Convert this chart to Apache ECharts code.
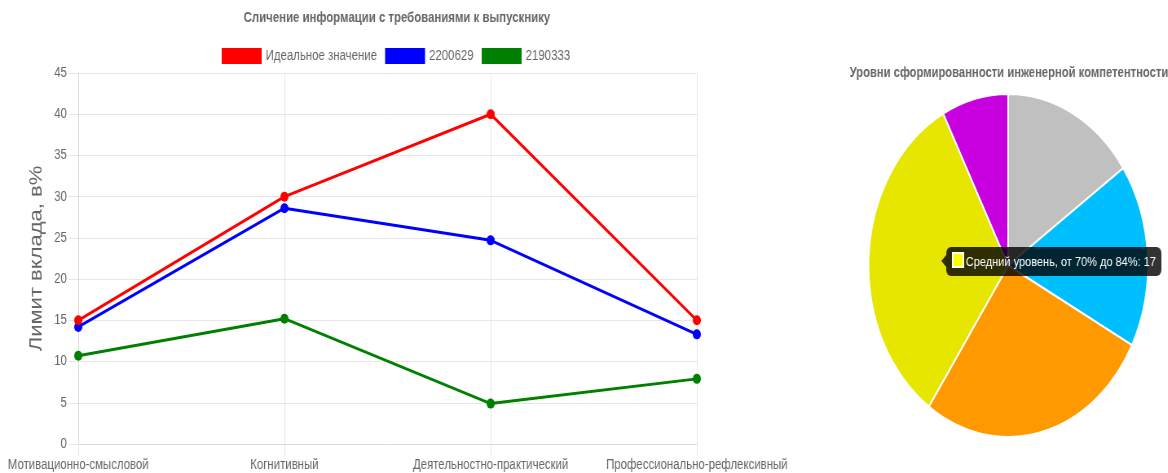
<!DOCTYPE html>
<html lang="ru">
<head>
<meta charset="UTF-8" />
<title>Сличение информации с требованиями к выпускнику</title>
<script src="https://cdn.jsdelivr.net/npm/echarts@6/dist/echarts.min.js"></script>
<style>
  html, body { margin: 0; padding: 0; overflow: hidden; background: #fff; }
  /* the reference is squeezed horizontally, so the whole chart is too */
  #main { width: 1433px; height: 473px; transform: scaleX(0.815); transform-origin: 0 0; }
</style>
</head>
<body>
<div id="main"></div>
<script>
var categories = ["Мотивационно-смысловой", "Когнитивный", "Деятельностно-практический", "Профессионально-рефлексивный"];
var idealValues = [15, 30, 40, 15];
var values2200629 = [14.2, 28.6, 24.7, 13.3];
var values2190333 = [10.7, 15.2, 4.9, 7.9];
var yMin = 0, yMax = 45, yStep = 5;

var levelNames = [
  "Недостаточный уровень, менее 40%",
  "Низкий уровень, от 40% до 54%",
  "Пороговый уровень, от 55% до 69%",
  "Средний уровень, от 70% до 84%",
  "Высокий уровень, от 85% до 100%"
];
var levelCounts = [8, 9, 14, 17, 4];
var levelColors = ["#c0c0c0", "#00bfff", "#ff9900", "#e6e600", "#c800e0"];
var levelTipColors = ["#d0d0d0", "#33ccff", "#ffad33", "#ffff00", "#dd33ff"];

var font = "'Liberation Sans', Arial, sans-serif";
var chart = echarts.init(document.getElementById("main"));

function lineSeries(name, data, color) {
  return {
    name: name,
    type: "line",
    data: data,
    symbol: "circle",
    symbolSize: 10,
    lineStyle: { width: 3, color: color },
    itemStyle: { color: color },
    emphasis: { disabled: true }
  };
}

var option = {
  animation: false,
  textStyle: { fontFamily: font },
  title: [
    {
      text: "Сличение информации с требованиями к выпускнику",
      left: 482, top: 6, textAlign: "center",
      textStyle: { fontSize: 14, fontWeight: "bold", color: "#666", fontFamily: font }
    },
    {
      text: "Уровни сформированности инженерной компетентности",
      left: 1233, top: 61, textAlign: "center",
      textStyle: { fontSize: 13.8, fontWeight: "bold", color: "#666", fontFamily: font }
    }
  ],
  legend: {
    left: 267, top: 43,
    itemWidth: 49, itemHeight: 16, itemGap: 10,
    icon: "rect",
    textStyle: { fontSize: 14, color: "#666", fontFamily: font },
    data: ["Идеальное значение", "2200629", "2190333"]
  },
  tooltip: {
    trigger: "item",
    triggerOn: "none",
    alwaysShowContent: true,
    showDelay: 0,
    transitionDuration: 0,
    backgroundColor: "rgba(0,0,0,0.8)",
    borderWidth: 0,
    borderRadius: 6,
    padding: [5, 7],
    textStyle: { color: "#fff", fontSize: 13.5, fontFamily: font },
    extraCssText: "box-shadow:none;white-space:nowrap;line-height:19px;",
    position: function () { return [1161, 247]; },
    formatter: function (p) {
      var arrow = '<span style="position:absolute;left:-12px;top:8px;width:0;height:0;' +
        'border:6px solid transparent;border-right-color:rgba(0,0,0,0.8);"></span>';
      var box = '<span style="display:inline-block;width:11px;height:12px;margin-right:2px;' +
        'vertical-align:-2px;background:' + levelTipColors[p.dataIndex] + ';border:2px solid #fff;"></span>';
      return arrow + box + p.name + ": " + p.value;
    }
  },
  grid: { left: 96, right: 578, top: 73, bottom: 29, containLabel: false },
  xAxis: {
    type: "category",
    data: categories,
    boundaryGap: false,
    axisLine: { lineStyle: { color: "#d9d9d9" } },
    axisTick: { show: true, length: 12, lineStyle: { color: "#e6e6e6" } },
    splitLine: { show: true, lineStyle: { color: "#e6e6e6" } },
    axisLabel: { color: "#666", fontSize: 14, margin: 14, interval: 0, fontFamily: font }
  },
  yAxis: {
    type: "value",
    min: yMin, max: yMax, interval: yStep,
    name: "Лимит вклада, в%",
    nameLocation: "middle",
    nameGap: 40,
    nameTextStyle: { fontSize: 22, color: "#666", fontFamily: font },
    axisLine: { show: true, lineStyle: { color: "#d9d9d9" } },
    axisTick: { show: true, length: 12, lineStyle: { color: "#e6e6e6" } },
    splitLine: { show: true, lineStyle: { color: "#e6e6e6" } },
    axisLabel: { color: "#666", fontSize: 14, margin: 14, fontFamily: font }
  },
  series: [
    lineSeries("2190333", values2190333, "#008000"),
    lineSeries("2200629", values2200629, "#0000ff"),
    lineSeries("Идеальное значение", idealValues, "#ff0000"),
    {
      name: "Уровни",
      type: "pie",
      center: [1237, 265.5],
      radius: 171.5,
      startAngle: 90,
      clockwise: true,
      label: { show: false },
      labelLine: { show: false },
      emphasis: { disabled: true },
      itemStyle: { borderColor: "#fff", borderWidth: 2 },
      data: levelNames.map(function (n, i) {
        return { name: n, value: levelCounts[i], itemStyle: { color: levelColors[i] } };
      })
    }
  ]
};

chart.setOption(option);
chart.dispatchAction({ type: "showTip", seriesIndex: 3, dataIndex: 3 });
</script>
</body>
</html>
